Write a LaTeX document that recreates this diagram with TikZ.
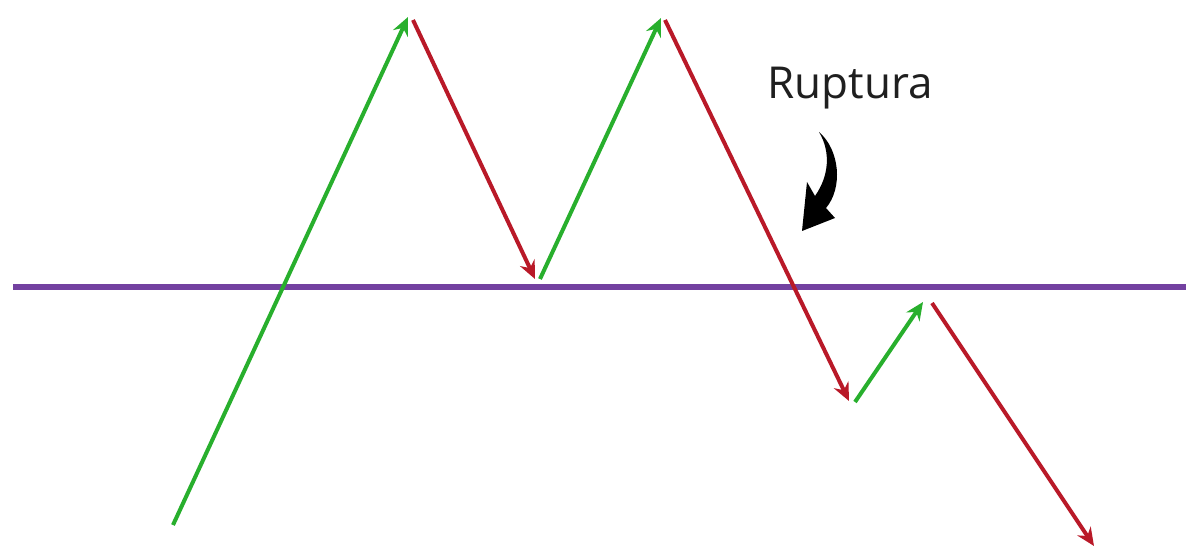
\documentclass[tikz,border=0pt]{standalone}
\usepackage{fontspec}
\setmainfont{Open Sans}
\usetikzlibrary{arrows.meta}
\definecolor{upgreen}{RGB}{40,175,45}
\definecolor{downred}{RGB}{185,25,40}
\definecolor{levelpurple}{RGB}{115,65,160}
\tikzset{
  up/.style={draw=upgreen, line width=4pt, -{Stealth[length=18pt,width=16pt,inset=6pt]}},
  down/.style={draw=downred, line width=4pt, -{Stealth[length=18pt,width=16pt,inset=6pt]}},
  level/.style={draw=levelpurple, line width=6pt},
}
\begin{document}
\begin{tikzpicture}[x=1pt,y=-1pt]
\useasboundingbox (0,0) rectangle (1186,548);
\fill[white] (0,0) rectangle (1186,548);
% vertices
\coordinate (g1s) at (173,525);
\coordinate (g1e) at (408,17);
\coordinate (r1s) at (413,20);
\coordinate (r1e) at (535,279);
\coordinate (g2s) at (540,279);
\coordinate (g2e) at (661,18);
\coordinate (r2s) at (665,20);
\coordinate (r2e) at (849,401);
\coordinate (g3s) at (855,402);
\coordinate (g3e) at (923,302);
\coordinate (r3s) at (932,303);
\coordinate (r3e) at (1094,546);
\coordinate (la) at (13,287);
\coordinate (lb) at (1186,287);
\draw[level] (la) -- (lb);
\draw[up] (g1s) -- (g1e);
\draw[down] (r1s) -- (r1e);
\draw[up] (g2s) -- (g2e);
\draw[down] (r2s) -- (r2e);
\draw[up] (g3s) -- (g3e);
\draw[down] (r3s) -- (r3e);
\node[text=black!88, font=\fontsize{44}{48}\selectfont, inner sep=0pt, anchor=base] (lbl) at (850,99) {Ruptura};
% curved pointer
\coordinate (ctail) at (819,132);
\coordinate (ctip) at (802,231);
\fill[black] (ctail) .. controls (840,150) and (843,188) .. (826,208)
  -- (835,218) -- (ctip) -- (807,182) -- (815,196)
  .. controls (829,176) and (831,152) .. (ctail) -- cycle;
\end{tikzpicture}
\end{document}
